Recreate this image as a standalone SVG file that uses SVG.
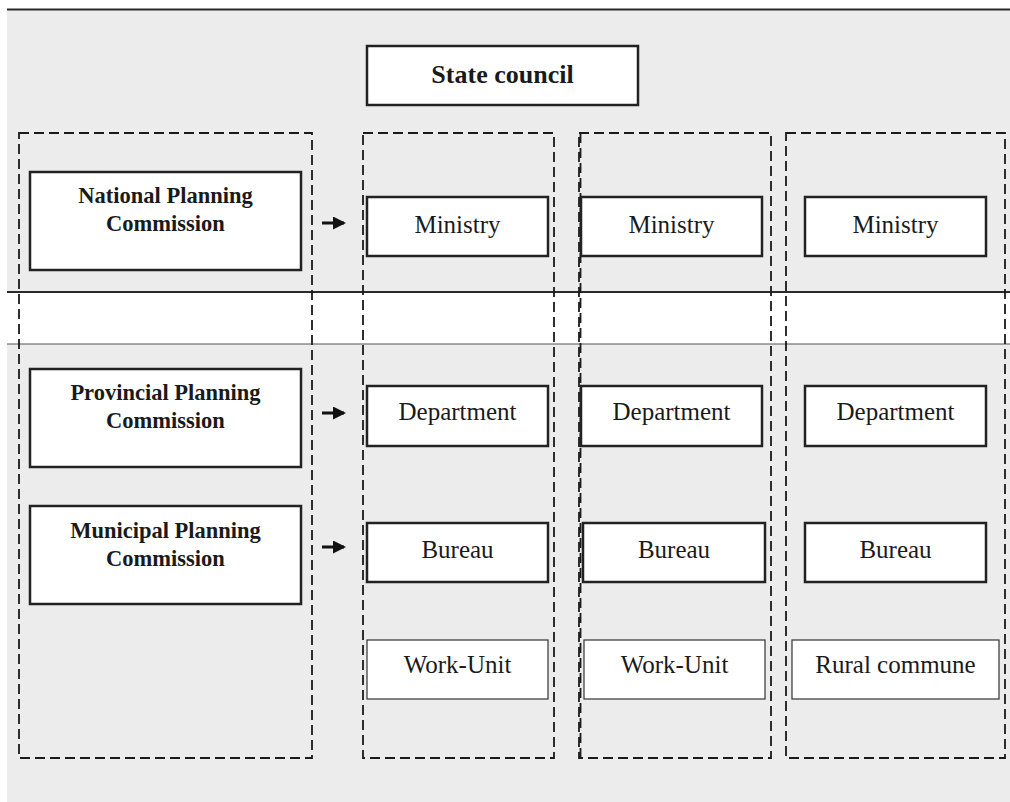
<svg xmlns="http://www.w3.org/2000/svg" width="1010" height="802" viewBox="0 0 1010 802">
<style>
.lane{fill:none;stroke:#1a1a1a;stroke-width:1.8;stroke-dasharray:10 5}
.box{fill:#fff;stroke:#222;stroke-width:2.5}
.thin{fill:#fff;stroke:#333;stroke-width:1.2}
.bl{font-family:"Liberation Serif","Times New Roman",serif;font-weight:bold;font-size:22.5px;fill:#1a1a1a;text-anchor:middle}
.big{font-size:26px}
.rl{font-family:"Liberation Serif","Times New Roman",serif;font-size:25px;fill:#1a1a1a;text-anchor:middle}
</style>
<defs>
<marker id="ah" markerWidth="13" markerHeight="13" refX="11" refY="6.5" orient="auto" markerUnits="userSpaceOnUse">
<path d="M0,0 L13,6.5 L0,13 Z" fill="#111"/>
</marker>
</defs>
<rect x="0" y="0" width="1010" height="802" fill="#fff"/>
<rect x="7" y="10" width="1003" height="792" fill="#ececec"/>
<rect x="7" y="292" width="1003" height="52" fill="#fff"/>
<line x1="7" y1="9.5" x2="1010" y2="9.5" stroke="#2a2a2a" stroke-width="2"/>
<line x1="7" y1="292" x2="1010" y2="292" stroke="#2a2a2a" stroke-width="2"/>
<line x1="7" y1="344" x2="1010" y2="344" stroke="#555" stroke-width="1"/>

<g id="lane-planning"><rect class="lane" x="19" y="133" width="293" height="625"/></g>
<g id="lane-1"><rect class="lane" x="363" y="133" width="191" height="625"/></g>
<g id="lane-2"><rect class="lane" x="579" y="133" width="192" height="625"/><line x1="580.5" y1="133" x2="580.5" y2="758" stroke="#1a1a1a" stroke-width="1.8" stroke-dasharray="10 5"/></g>
<g id="lane-3"><rect class="lane" x="786" y="133" width="219" height="625"/></g>

<g id="state-council"><rect class="box" x="367" y="46" width="271" height="59" stroke-width="2"/><text class="bl big" x="502.5" y="83">State council</text></g>

<g id="national"><rect class="box" x="30" y="172" width="271" height="98" stroke-width="2.2"/><text class="bl" x="165.5" y="203">National Planning</text><text class="bl" x="165.5" y="231">Commission</text></g>
<g id="provincial"><rect class="box" x="30" y="369" width="271" height="98" stroke-width="2.2"/><text class="bl" x="165.5" y="400">Provincial Planning</text><text class="bl" x="165.5" y="428">Commission</text></g>
<g id="municipal"><rect class="box" x="30" y="506" width="271" height="98" stroke-width="2.2"/><text class="bl" x="165.5" y="538">Municipal Planning</text><text class="bl" x="165.5" y="566">Commission</text></g>

<g id="ministry-1"><rect class="box" x="367" y="197" width="181" height="59"/><text class="rl" x="457.5" y="233">Ministry</text></g>
<g id="ministry-2"><rect class="box" x="581" y="197" width="181" height="59"/><text class="rl" x="671.5" y="233">Ministry</text></g>
<g id="ministry-3"><rect class="box" x="805" y="197" width="181" height="59"/><text class="rl" x="895.5" y="233">Ministry</text></g>

<g id="department-1"><rect class="box" x="367" y="386" width="181" height="60"/><text class="rl" x="457.5" y="420">Department</text></g>
<g id="department-2"><rect class="box" x="581" y="386" width="181" height="60"/><text class="rl" x="671.5" y="420">Department</text></g>
<g id="department-3"><rect class="box" x="805" y="386" width="181" height="60"/><text class="rl" x="895.5" y="420">Department</text></g>

<g id="bureau-1"><rect class="box" x="367" y="523" width="181" height="59"/><text class="rl" x="457.5" y="558">Bureau</text></g>
<g id="bureau-2"><rect class="box" x="583" y="523" width="182" height="59"/><text class="rl" x="674" y="558">Bureau</text></g>
<g id="bureau-3"><rect class="box" x="805" y="523" width="181" height="59"/><text class="rl" x="895.5" y="558">Bureau</text></g>

<g id="workunit-1"><rect class="thin" x="367" y="640" width="181" height="59"/><text class="rl" x="457.5" y="673">Work-Unit</text></g>
<g id="workunit-2"><rect class="thin" x="584" y="640" width="181" height="59"/><text class="rl" x="674.5" y="673">Work-Unit</text></g>
<g id="rural-commune"><rect class="thin" x="792" y="640" width="207" height="59"/><text class="rl" x="895.5" y="673">Rural commune</text></g>

<g id="connectors" stroke="#111" stroke-width="3" fill="none">
<line x1="322" y1="223" x2="344" y2="223" marker-end="url(#ah)"/>
<line x1="322" y1="413" x2="344" y2="413" marker-end="url(#ah)"/>
<line x1="322" y1="547" x2="344" y2="547" marker-end="url(#ah)"/>
</g>
</svg>
